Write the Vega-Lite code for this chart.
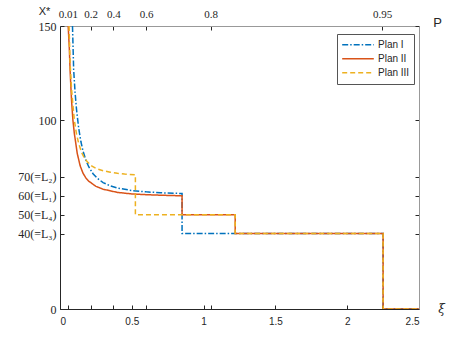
{
  "$schema": "https://vega.github.io/schema/vega-lite/v6.json",
  "width": 359,
  "height": 283,
  "autosize": "none",
  "padding": {"left": 60, "top": 26, "right": 44, "bottom": 39},
  "background": "white",
  "config": {
    "view": {"stroke": null},
    "axis": {"grid": false, "tickSize": -4, "tickColor": "#262626", "domainColor": "#262626", "labelColor": "#262626", "titleColor": "#262626", "labelFontWeight": "normal", "titleFontWeight": "normal"}
  },
  "data": {
    "values": [
      {"plan": "Plan I", "i": 0, "xi": 0.087, "p": 150},
      {"plan": "Plan I", "i": 1, "xi": 0.095, "p": 127},
      {"plan": "Plan I", "i": 2, "xi": 0.105, "p": 114.8},
      {"plan": "Plan I", "i": 3, "xi": 0.115, "p": 105.8},
      {"plan": "Plan I", "i": 4, "xi": 0.13, "p": 95.9},
      {"plan": "Plan I", "i": 5, "xi": 0.145, "p": 88.9},
      {"plan": "Plan I", "i": 6, "xi": 0.16, "p": 83.8},
      {"plan": "Plan I", "i": 7, "xi": 0.18, "p": 78.9},
      {"plan": "Plan I", "i": 8, "xi": 0.2, "p": 75.4},
      {"plan": "Plan I", "i": 9, "xi": 0.23, "p": 71.7},
      {"plan": "Plan I", "i": 10, "xi": 0.26, "p": 69.3},
      {"plan": "Plan I", "i": 11, "xi": 0.3, "p": 67},
      {"plan": "Plan I", "i": 12, "xi": 0.35, "p": 65.3},
      {"plan": "Plan I", "i": 13, "xi": 0.4, "p": 64.1},
      {"plan": "Plan I", "i": 14, "xi": 0.5, "p": 62.8},
      {"plan": "Plan I", "i": 15, "xi": 0.6, "p": 62.1},
      {"plan": "Plan I", "i": 16, "xi": 0.7, "p": 61.6},
      {"plan": "Plan I", "i": 17, "xi": 0.85, "p": 61.2},
      {"plan": "Plan I", "i": 18, "xi": 0.85, "p": 40},
      {"plan": "Plan I", "i": 19, "xi": 2.25, "p": 40},
      {"plan": "Plan I", "i": 20, "xi": 2.25, "p": 0},
      {"plan": "Plan I", "i": 21, "xi": 2.5, "p": 0},
      {"plan": "Plan II", "i": 0, "xi": 0.057, "p": 150},
      {"plan": "Plan II", "i": 1, "xi": 0.065, "p": 138},
      {"plan": "Plan II", "i": 2, "xi": 0.07, "p": 127},
      {"plan": "Plan II", "i": 3, "xi": 0.08, "p": 111},
      {"plan": "Plan II", "i": 4, "xi": 0.09, "p": 100},
      {"plan": "Plan II", "i": 5, "xi": 0.1, "p": 93},
      {"plan": "Plan II", "i": 6, "xi": 0.12, "p": 82.5},
      {"plan": "Plan II", "i": 7, "xi": 0.14, "p": 76},
      {"plan": "Plan II", "i": 8, "xi": 0.16, "p": 72},
      {"plan": "Plan II", "i": 9, "xi": 0.18, "p": 69.5},
      {"plan": "Plan II", "i": 10, "xi": 0.2, "p": 67.8},
      {"plan": "Plan II", "i": 11, "xi": 0.25, "p": 65},
      {"plan": "Plan II", "i": 12, "xi": 0.3, "p": 63.5},
      {"plan": "Plan II", "i": 13, "xi": 0.4, "p": 61.8},
      {"plan": "Plan II", "i": 14, "xi": 0.5, "p": 61},
      {"plan": "Plan II", "i": 15, "xi": 0.6, "p": 60.6},
      {"plan": "Plan II", "i": 16, "xi": 0.7, "p": 60.3},
      {"plan": "Plan II", "i": 17, "xi": 0.85, "p": 60},
      {"plan": "Plan II", "i": 18, "xi": 0.85, "p": 50},
      {"plan": "Plan II", "i": 19, "xi": 1.22, "p": 50},
      {"plan": "Plan II", "i": 20, "xi": 1.22, "p": 40},
      {"plan": "Plan II", "i": 21, "xi": 2.25, "p": 40},
      {"plan": "Plan II", "i": 22, "xi": 2.25, "p": 0},
      {"plan": "Plan II", "i": 23, "xi": 2.5, "p": 0},
      {"plan": "Plan III", "i": 0, "xi": 0.063, "p": 150},
      {"plan": "Plan III", "i": 1, "xi": 0.07, "p": 131},
      {"plan": "Plan III", "i": 2, "xi": 0.08, "p": 117},
      {"plan": "Plan III", "i": 3, "xi": 0.09, "p": 108},
      {"plan": "Plan III", "i": 4, "xi": 0.1, "p": 100},
      {"plan": "Plan III", "i": 5, "xi": 0.115, "p": 92.7},
      {"plan": "Plan III", "i": 6, "xi": 0.13, "p": 87.8},
      {"plan": "Plan III", "i": 7, "xi": 0.15, "p": 83},
      {"plan": "Plan III", "i": 8, "xi": 0.17, "p": 80},
      {"plan": "Plan III", "i": 9, "xi": 0.19, "p": 78},
      {"plan": "Plan III", "i": 10, "xi": 0.22, "p": 75.8},
      {"plan": "Plan III", "i": 11, "xi": 0.26, "p": 74.2},
      {"plan": "Plan III", "i": 12, "xi": 0.3, "p": 73.3},
      {"plan": "Plan III", "i": 13, "xi": 0.35, "p": 72.5},
      {"plan": "Plan III", "i": 14, "xi": 0.4, "p": 71.9},
      {"plan": "Plan III", "i": 15, "xi": 0.45, "p": 71.5},
      {"plan": "Plan III", "i": 16, "xi": 0.525, "p": 71.1},
      {"plan": "Plan III", "i": 17, "xi": 0.525, "p": 50},
      {"plan": "Plan III", "i": 18, "xi": 1.22, "p": 50},
      {"plan": "Plan III", "i": 19, "xi": 1.22, "p": 40},
      {"plan": "Plan III", "i": 20, "xi": 2.25, "p": 40},
      {"plan": "Plan III", "i": 21, "xi": 2.25, "p": 0},
      {"plan": "Plan III", "i": 22, "xi": 2.5, "p": 0}
    ]
  },
  "resolve": {"axis": {"x": "independent", "y": "independent"}},
  "layer": [
    {
      "mark": {"type": "line", "strokeWidth": 1.5, "clip": true},
      "encoding": {
        "x": {
          "field": "xi", "type": "quantitative",
          "scale": {"domain": [0, 2.5], "nice": false, "zero": false},
          "axis": {
            "orient": "bottom",
            "values": [0, 0.054, 0.214, 0.371, 0.5, 0.599, 1, 1.049, 1.5, 2, 2.244, 2.5],
            "labelExpr": "abs(datum.value*2 - round(datum.value*2)) < 0.001 ? datum.label : ''",
            "format": "~g",
            "labelFont": "Liberation Sans", "labelFontSize": 10, "labelPadding": 11,
            "title": "ξ", "titleFont": "DejaVu Serif", "titleFontStyle": "italic", "titleFontSize": 12,
            "titleX": 381, "titleY": -1, "titleAlign": "center", "titleBaseline": "middle", "titleAngle": 0
          }
        },
        "y": {
          "field": "p", "type": "quantitative",
          "scale": {"domain": [0, 150], "nice": false},
          "axis": {
            "orient": "left",
            "values": [0, 40, 50, 60, 70, 100, 150],
            "labelExpr": "datum.value == 70 ? '70(=L₂)' : datum.value == 60 ? '60(=L₁)' : datum.value == 50 ? '50(=L₄)' : datum.value == 40 ? '40(=L₃)' : datum.label",
            "labelFont": "Liberation Serif", "labelFontSize": 12, "labelPadding": 8,
            "title": null
          }
        },
        "color": {
          "field": "plan", "type": "nominal",
          "scale": {"domain": ["Plan I", "Plan II", "Plan III"], "range": ["#0072BD", "#D95319", "#EDB120"]},
          "legend": {
            "title": null, "orient": "none", "legendX": 277, "legendY": 8,
            "symbolType": "stroke", "symbolSize": 1000, "symbolStrokeWidth": 1.5,
            "labelFont": "Liberation Sans", "labelFontSize": 10, "labelColor": "#262626", "labelOffset": 3,
            "clipHeight": 13.5, "rowPadding": 0,
            "fillColor": "white", "strokeColor": "#555", "padding": 4
          }
        },
        "strokeDash": {
          "field": "plan", "type": "nominal",
          "scale": {"domain": ["Plan I", "Plan II", "Plan III"], "range": [[6, 2, 1.5, 2], [1, 0], [5, 3]]},
          "legend": null
        },
        "order": {"field": "i", "type": "quantitative"}
      }
    },
    {
      "mark": {"type": "point", "opacity": 0},
      "encoding": {
        "x": {
          "field": "xi", "type": "quantitative",
          "axis": {
            "orient": "top",
            "values": [0.054, 0.214, 0.371, 0.599, 1.049, 2.244],
            "labelExpr": "datum.value < 0.1 ? '0.01' : datum.value < 0.3 ? '0.2' : datum.value < 0.5 ? '0.4' : datum.value < 0.8 ? '0.6' : datum.value < 1.5 ? '0.8' : '0.95'",
            "labelFont": "Liberation Serif", "labelFontSize": 11, "labelPadding": 11,
            "domainColor": "#999",
            "title": "X*", "titleFont": "Liberation Sans", "titleFontSize": 11,
            "titleX": -16, "titleY": -15, "titleAlign": "center", "titleBaseline": "middle", "titleAngle": 0
          }
        },
        "y": {
          "field": "p", "type": "quantitative",
          "axis": {
            "orient": "right",
            "values": [0, 40, 50, 60, 70, 100, 150],
            "labels": false,
            "domainColor": "#999",
            "title": "P", "titleFont": "Liberation Sans", "titleFontSize": 13,
            "titleX": 18, "titleY": -4, "titleAlign": "center", "titleBaseline": "middle", "titleAngle": 0
          }
        }
      }
    }
  ]
}
